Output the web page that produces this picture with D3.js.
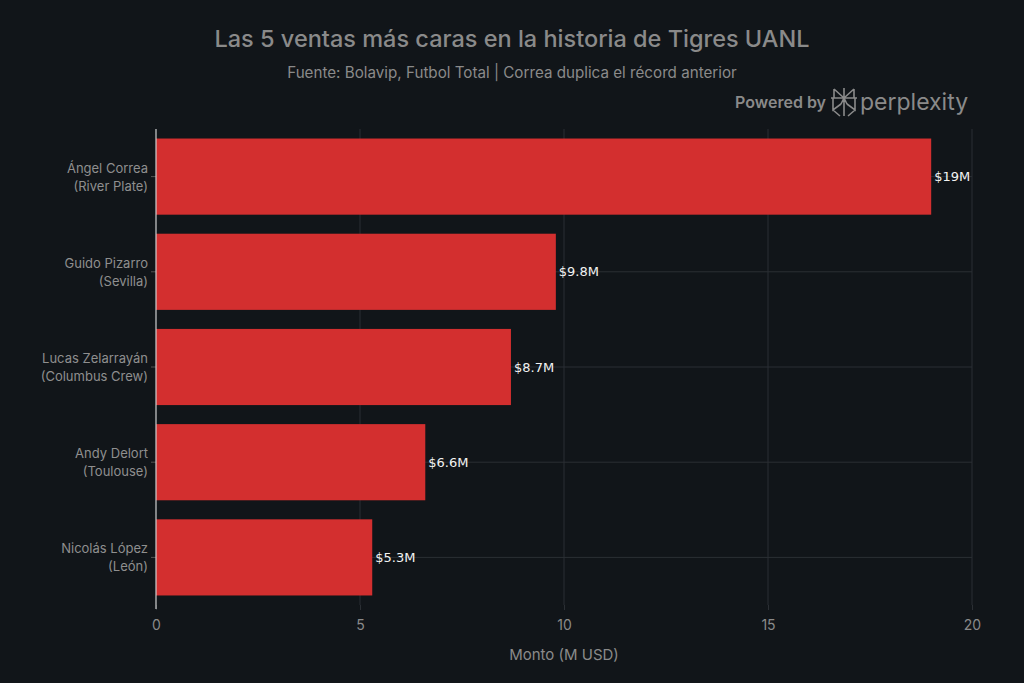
<!DOCTYPE html>
<html>
<head>
<meta charset="utf-8">
<script src="https://cdn.jsdelivr.net/npm/d3@7"></script>
<style>
  html, body { margin: 0; padding: 0; background: #111519; }
  svg { display: block; font-family: Inter, "Noto Sans", sans-serif; }
</style>
</head>
<body>
<svg id="chart" width="1024" height="683"></svg>
<script>
// data
const players = ['Ángel Correa', 'Guido Pizarro', 'Lucas Zelarrayán', 'Andy Delort', 'Nicolás López'];
const clubs = ['River Plate', 'Sevilla', 'Columbus Crew', 'Toulouse', 'León'];
const amounts = [19, 9.8, 8.7, 6.6, 5.3];
const amountLabels = ['$19M', '$9.8M', '$8.7M', '$6.6M', '$5.3M'];
const xTicks = [0, 5, 10, 15, 20];

const svg = d3.select('#chart');
const W = 1024, H = 683;
const m = { top: 129, right: 52, bottom: 78, left: 156 };
const iw = W - m.left - m.right, ih = H - m.top - m.bottom;

svg.append('rect').attr('width', W).attr('height', H).attr('fill', '#111519');

// titles
svg.append('text').attr('x', 512).attr('y', 47).attr('text-anchor', 'middle')
  .attr('font-size', 23.5).attr('font-weight', 500).attr('fill', '#8a8a8a')
  .text('Las 5 ventas más caras en la historia de Tigres UANL');
svg.append('text').attr('x', 512).attr('y', 78).attr('text-anchor', 'middle')
  .attr('font-size', 15.2).attr('fill', '#8a8a8a')
  .text('Fuente: Bolavip, Futbol Total | Correa duplica el récord anterior');

// powered by perplexity
const pb = svg.append('g').attr('fill', '#8a8a8a');
pb.append('text').attr('x', 826).attr('y', 108).attr('text-anchor', 'end')
  .attr('font-size', 16).attr('font-weight', 600).text('Powered by');
const logo = pb.append('g').attr('transform', 'translate(844,102)')
  .attr('fill', 'none').attr('stroke', '#8a8a8a').attr('stroke-width', 1.6);
logo.append('path').attr('d', 'M0,-14 V14 M-10,-13 L0,-4 L10,-13 M-10,-13 V-4 H10 V-13 M-11,-4 V8 L-3,2 M11,-4 V8 L3,2 M-11,8 L-4,14 M11,8 L4,14 M-3,2 L0,-4 L3,2 M-13,-4 H13');
pb.append('text').attr('x', 860).attr('y', 110)
  .attr('font-size', 23).attr('font-weight', 400).text('perplexity');

const g = svg.append('g').attr('transform', `translate(${m.left},${m.top})`);

const x = d3.scaleLinear().domain([0, 20]).range([0, iw]);
const y = d3.scaleBand().domain(players).range([0, ih]).paddingInner(0.2).paddingOuter(0.1);

// grid
g.selectAll('.vgrid').data(xTicks.slice(1)).join('line')
  .attr('x1', d => x(d)).attr('x2', d => x(d)).attr('y1', 0).attr('y2', ih)
  .attr('stroke', '#2b2f34').attr('stroke-width', 1);
g.selectAll('.hgrid').data(players).join('line')
  .attr('x1', 0).attr('x2', iw)
  .attr('y1', d => y(d) + y.bandwidth() / 2).attr('y2', d => y(d) + y.bandwidth() / 2)
  .attr('stroke', '#2b2f34').attr('stroke-width', 1);

// bars
g.selectAll('.bar').data(amounts).join('rect')
  .attr('x', 0).attr('y', (d, i) => y(players[i]))
  .attr('width', d => x(d)).attr('height', y.bandwidth())
  .attr('fill', '#d32f2f');

// value labels
g.selectAll('.val').data(amounts).join('text')
  .attr('x', d => x(d) + 3).attr('y', (d, i) => y(players[i]) + y.bandwidth() / 2)
  .attr('dy', '0.35em').attr('font-family', '"DejaVu Sans", sans-serif')
  .attr('font-size', 13).attr('fill', '#f2f2f2')
  .text((d, i) => amountLabels[i]);

// x axis
const xAxis = g.append('g').attr('transform', `translate(0,${ih})`)
  .call(d3.axisBottom(x).tickValues(xTicks).tickSize(5).tickPadding(10));
xAxis.select('.domain').remove();
xAxis.selectAll('line').attr('stroke', '#2b2f34');
xAxis.selectAll('text').attr('fill', '#8a8a8a').attr('font-size', 14)
  .attr('font-family', 'Inter, "Noto Sans", sans-serif');

// y axis
const yAxis = g.append('g')
  .call(d3.axisLeft(y).tickSize(5).tickFormat(''));
yAxis.select('.domain').remove();
yAxis.selectAll('line').attr('stroke', '#555');
g.append('line').attr('x1', 0).attr('x2', 0).attr('y1', 0).attr('y2', ih + 4)
  .attr('stroke', '#d0d0d0').attr('stroke-width', 1.2);

// y labels, two lines
const yl = g.selectAll('.ylab').data(players).join('text')
  .attr('text-anchor', 'end').attr('font-size', 13).attr('fill', '#8f8f8f')
  .attr('transform', d => `translate(-8,${y(d) + y.bandwidth() / 2})`);
yl.append('tspan').attr('x', 0).attr('y', -4).text(d => d);
yl.append('tspan').attr('x', 0).attr('y', 14).text((d, i) => `(${clubs[i]})`);

// axis title
svg.append('text').attr('x', m.left + iw / 2).attr('y', 660).attr('text-anchor', 'middle')
  .attr('font-size', 15).attr('fill', '#8a8a8a').text('Monto (M USD)');
</script>
</body>
</html>
